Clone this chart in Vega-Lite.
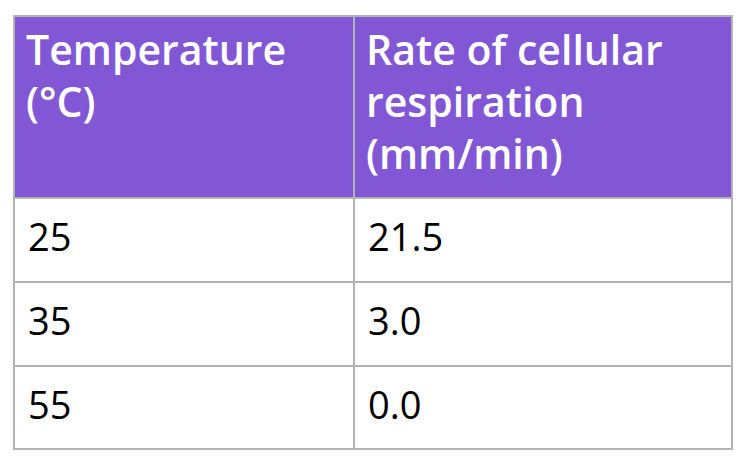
{
  "$schema": "https://vega.github.io/schema/vega-lite/v6.json",
  "width": 750,
  "height": 464,
  "autosize": {"type": "fit", "contains": "padding"},
  "padding": 0,
  "background": "white",
  "config": {"view": {"stroke": null}},
  "data": {
    "values": [
      {"r": 0, "c": 0, "label": "Temperature\n(°C)"},
      {"r": 0, "c": 1, "label": "Rate of cellular\nrespiration\n(mm/min)"},
      {"r": 1, "c": 0, "label": "25"},
      {"r": 1, "c": 1, "label": "21.5"},
      {"r": 2, "c": 0, "label": "35"},
      {"r": 2, "c": 1, "label": "3.0"},
      {"r": 3, "c": 0, "label": "55"},
      {"r": 3, "c": 1, "label": "0.0"}
    ]
  },
  "transform": [
    {"calculate": "datum.c + 1", "as": "c2"},
    {"calculate": "datum.r + 1", "as": "r2"},
    {"calculate": "datum.r + 0.5", "as": "rm"}
  ],
  "resolve": {"scale": {"x": "shared", "y": "shared"}},
  "layer": [
    {
      "mark": {"type": "rect", "stroke": "#b3b3b3", "strokeWidth": 2},
      "encoding": {
        "x": {"field": "c", "type": "quantitative", "scale": {"domain": [0, 1, 2], "range": [14, 354, 732]}, "axis": null},
        "x2": {"field": "c2"},
        "y": {"field": "r", "type": "quantitative", "scale": {"domain": [0, 1, 2, 3, 4], "range": [16, 198, 282, 366, 449]}, "axis": null},
        "y2": {"field": "r2"},
        "fill": {"condition": {"test": "datum.r == 0", "value": "#8257d6"}, "value": "white"}
      }
    },
    {
      "transform": [{"filter": "datum.r == 0"}],
      "mark": {"type": "text", "align": "left", "baseline": "top", "dx": 12, "dy": 17, "fontSize": 41, "font": "Open Sans", "fontWeight": 600, "color": "white", "lineHeight": 52, "lineBreak": "\n"},
      "encoding": {
        "x": {"field": "c", "type": "quantitative"},
        "y": {"field": "r", "type": "quantitative"},
        "text": {"field": "label"}
      }
    },
    {
      "transform": [{"filter": "datum.r > 0"}],
      "mark": {"type": "text", "align": "left", "baseline": "middle", "dx": 14, "fontSize": 38, "font": "Open Sans", "color": "black"},
      "encoding": {
        "x": {"field": "c", "type": "quantitative"},
        "y": {"field": "rm", "type": "quantitative"},
        "text": {"field": "label"}
      }
    }
  ]
}
